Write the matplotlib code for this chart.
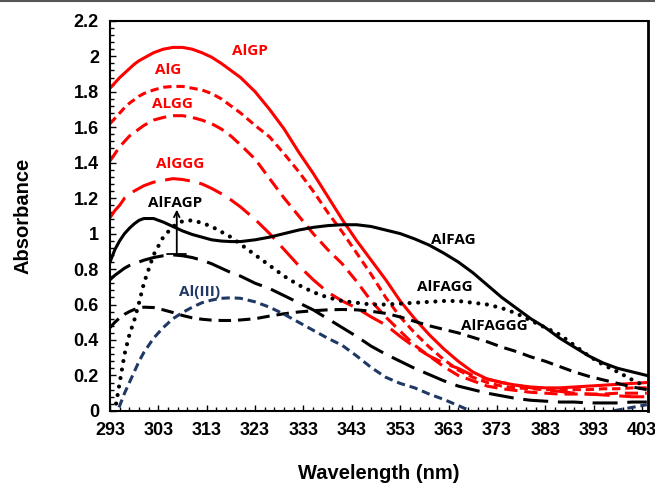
import numpy as np
import matplotlib
matplotlib.use("Agg")
import matplotlib.pyplot as plt
from matplotlib.ticker import FixedLocator, MultipleLocator
from matplotlib.lines import Line2D

# wavelength grid (nm)
wavelength = [293, 294, 295, 296, 297, 298, 299, 300, 302, 304, 306, 308, 310, 312, 314, 316,
              318, 320, 323, 326, 329, 332, 335, 338, 341, 344, 347, 350, 353, 356, 359, 362,
              365, 368, 371, 374, 377, 380, 383, 386, 389, 392, 395, 398, 401, 404]

# absorbance values
alg_p = [1.82, 1.85, 1.88, 1.905, 1.93, 1.955, 1.975, 1.99, 2.02, 2.04, 2.05, 2.05, 2.04, 2.02,
         1.995, 1.96, 1.92, 1.88, 1.80, 1.70, 1.59, 1.46, 1.34, 1.21, 1.08, 0.96, 0.85, 0.74,
         0.62, 0.52, 0.43, 0.35, 0.28, 0.22, 0.18, 0.16, 0.145, 0.135, 0.13, 0.13, 0.135, 0.14,
         0.145, 0.15, 0.155, 0.16]
alg = [1.62, 1.65, 1.68, 1.71, 1.735, 1.755, 1.775, 1.79, 1.81, 1.825, 1.83, 1.83, 1.82, 1.81,
       1.79, 1.76, 1.72, 1.68, 1.61, 1.545, 1.45, 1.35, 1.24, 1.12, 1.01, 0.89, 0.77, 0.64,
       0.53, 0.44, 0.36, 0.29, 0.23, 0.19, 0.16, 0.14, 0.13, 0.125, 0.12, 0.12, 0.12, 0.12,
       0.125, 0.125, 0.13, 0.13]
algg = [1.41, 1.45, 1.49, 1.52, 1.55, 1.57, 1.59, 1.61, 1.64, 1.655, 1.665, 1.665, 1.655, 1.64,
        1.62, 1.59, 1.55, 1.50, 1.42, 1.31, 1.20, 1.10, 1.00, 0.91, 0.83, 0.73, 0.62, 0.53,
        0.45, 0.37, 0.31, 0.25, 0.20, 0.17, 0.14, 0.125, 0.115, 0.105, 0.10, 0.095, 0.095,
        0.095, 0.095, 0.10, 0.10, 0.10]
alggg = [1.09, 1.13, 1.16, 1.20, 1.22, 1.24, 1.255, 1.27, 1.29, 1.30, 1.31, 1.305, 1.295, 1.28,
         1.255, 1.225, 1.19, 1.15, 1.08, 1.00, 0.91, 0.82, 0.74, 0.67, 0.62, 0.58, 0.53, 0.485,
         0.42, 0.36, 0.31, 0.27, 0.24, 0.20, 0.18, 0.16, 0.145, 0.13, 0.12, 0.11, 0.10, 0.095,
         0.09, 0.085, 0.08, 0.08]
alfag = [0.84, 0.91, 0.96, 1.00, 1.03, 1.055, 1.075, 1.085, 1.085, 1.065, 1.04, 1.015, 0.995,
         0.98, 0.965, 0.958, 0.955, 0.955, 0.965, 0.98, 1.00, 1.02, 1.035, 1.045, 1.05, 1.05,
         1.04, 1.02, 1.00, 0.97, 0.935, 0.89, 0.84, 0.78, 0.71, 0.64, 0.58, 0.52, 0.47, 0.41,
         0.36, 0.31, 0.27, 0.24, 0.22, 0.20]
alfagp = [0.74, 0.765, 0.785, 0.805, 0.82, 0.83, 0.84, 0.85, 0.865, 0.875, 0.88, 0.875, 0.865,
          0.85, 0.83, 0.805, 0.78, 0.76, 0.72, 0.69, 0.65, 0.61, 0.57, 0.52, 0.47, 0.42, 0.365,
          0.32, 0.28, 0.24, 0.205, 0.17, 0.14, 0.12, 0.10, 0.085, 0.07, 0.06, 0.055, 0.05, 0.05,
          0.045, 0.045, 0.045, 0.05, 0.05]
alfagg = [-0.15, 0.0, 0.16, 0.32, 0.43, 0.51, 0.61, 0.72, 0.88, 0.98, 1.04, 1.07, 1.075, 1.06,
          1.04, 1.01, 0.98, 0.94, 0.88, 0.82, 0.76, 0.71, 0.67, 0.64, 0.62, 0.61, 0.60, 0.60,
          0.605, 0.61, 0.615, 0.62, 0.62, 0.61, 0.60, 0.58, 0.55, 0.51, 0.47, 0.43, 0.37, 0.31,
          0.26, 0.22, 0.175, 0.135]
alfaggg = [0.47, 0.50, 0.525, 0.545, 0.56, 0.572, 0.58, 0.585, 0.583, 0.57, 0.555, 0.538, 0.525,
           0.517, 0.512, 0.51, 0.51, 0.513, 0.52, 0.535, 0.548, 0.558, 0.565, 0.57, 0.572, 0.57,
           0.562, 0.55, 0.53, 0.505, 0.48, 0.46, 0.44, 0.415, 0.39, 0.36, 0.335, 0.305, 0.28,
           0.25, 0.22, 0.195, 0.175, 0.155, 0.135, 0.12]
al3 = [-0.12, -0.04, 0.03, 0.10, 0.16, 0.22, 0.28, 0.33, 0.41, 0.47, 0.52, 0.555, 0.585, 0.61,
       0.625, 0.635, 0.638, 0.635, 0.615, 0.585, 0.545, 0.50, 0.455, 0.41, 0.37, 0.31, 0.245,
       0.19, 0.155, 0.13, 0.095, 0.065, 0.03, -0.005, -0.02, -0.035, -0.045, -0.05, -0.05,
       -0.045, -0.035, -0.02, -0.01, 0.005, 0.02, 0.035]

xticks = [293, 303, 313, 323, 333, 343, 353, 363, 373, 383, 393, 403]
yticks = [0, 0.2, 0.4, 0.6, 0.8, 1, 1.2, 1.4, 1.6, 1.8, 2, 2.2]
ytick_labels = ["0", "0.2", "0.4", "0.6", "0.8", "1", "1.2", "1.4", "1.6", "1.8", "2", "2.2"]

RED = "#ff0000"
NAVY = "#1f3864"

plt.rcParams['lines.scale_dashes'] = False

fig = plt.figure(figsize=(6.55, 4.84), dpi=100)
ax = fig.add_axes([0.168, 0.151, 0.821, 0.806])

lw = 2.2
ax.plot(wavelength, alg_p, color=RED, lw=lw)
ax.plot(wavelength, alg, color=RED, lw=lw, linestyle=(0, (6, 3.5)))
ax.plot(wavelength, algg, color=RED, lw=lw, linestyle=(0, (9.5, 5)))
ax.plot(wavelength, alggg, color=RED, lw=lw, linestyle=(0, (18, 7)))
ax.plot(wavelength, alfag, color="black", lw=lw)
ax.plot(wavelength, alfagp, color="black", lw=lw, linestyle=(0, (18, 7)))
ax.plot(wavelength, alfagg, color="black", lw=3, linestyle=(0, (0.01, 6.2)),
        dash_capstyle="round")
ax.plot(wavelength, alfaggg, color="black", lw=lw, linestyle=(0, (9, 5)))
ax.plot(wavelength, al3, color=NAVY, lw=lw, linestyle=(0, (6, 3.5)))

# curve labels
lab = dict(fontsize=11, fontweight="bold", family="Open Sans", ha="center", va="center")
ax.text(321.9, 2.03, "AlGP", color=RED, **lab)
ax.text(305.0, 1.92, "AlG", color=RED, **lab)
ax.text(305.8, 1.73, "ALGG", color=RED, **lab)
ax.text(307.5, 1.39, "AlGGG", color=RED, **lab)
ax.text(306.4, 1.17, "AlFAGP", color="black", **lab)
ax.text(364.0, 0.965, "AlFAG", color="black", **lab)
ax.text(362.2, 0.70, "AlFAGG", color="black", **lab)
ax.text(372.5, 0.48, "AlFAGGG", color="black", **lab)
ax.text(311.6, 0.67, "Al(III)", color=NAVY, **lab)

ax.annotate("", xy=(306.8, 1.135), xytext=(306.8, 0.885),
            arrowprops=dict(arrowstyle="]->, widthA=0.7, lengthA=0", color="black", lw=1.3,
                            shrinkA=0, shrinkB=0))

ax.set_xlim(293, 404.2)
ax.set_ylim(0, 2.2)
ax.xaxis.set_major_locator(FixedLocator(xticks))
ax.xaxis.set_minor_locator(FixedLocator(np.arange(293, 405, 2)))
ax.yaxis.set_major_locator(FixedLocator(yticks))
ax.yaxis.set_minor_locator(MultipleLocator(0.04))
ax.set_xticklabels([str(t) for t in xticks])
ax.set_yticklabels(ytick_labels)
ax.tick_params(which="both", direction="in", width=1, color="black")
ax.tick_params(which="major", length=4, labelsize=13, pad=8)
ax.tick_params(which="minor", length=3)
for t in ax.get_xticklabels() + ax.get_yticklabels():
    t.set_fontweight("bold")
    t.set_family("Liberation Sans")
for s in ax.spines.values():
    s.set_linewidth(1.5)
ax.spines["right"].set_linewidth(2)

ax.set_xlabel("Wavelength (nm)", fontsize=14.5, fontweight="bold", family="Liberation Sans",
              labelpad=18)
ax.set_ylabel("Absorbance", fontsize=14.5, fontweight="bold", family="Liberation Sans",
              labelpad=30)

fig.add_artist(Line2D([0, 1], [0.998, 0.998], color="#555555", lw=1.5, transform=fig.transFigure))

fig.savefig("out.png", dpi=100)
